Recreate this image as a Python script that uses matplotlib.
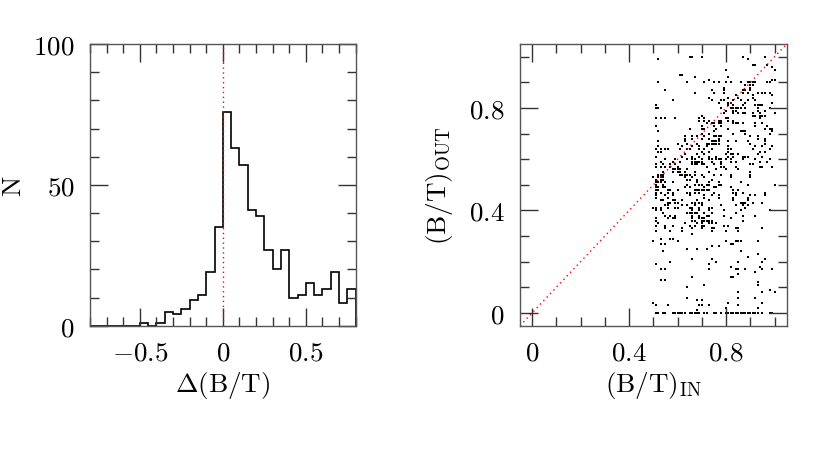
import numpy as np
import matplotlib
matplotlib.use("Agg")
import matplotlib.pyplot as plt
from matplotlib.ticker import MultipleLocator

plt.rcParams.update({
    "font.family": "serif",
    "font.serif": ["cmr10", "DejaVu Serif"],
    "mathtext.fontset": "cm",
    "axes.formatter.use_mathtext": True,
    "axes.unicode_minus": True,
    "font.size": 19.5,
})

# ---- Left panel: histogram of Delta(B/T) ----
bin_lo, bin_hi, n_bins = -0.8, 0.8, 32
counts = [0, 0, 0, 0, 0, 0, 1, 0, 1, 5, 4, 6, 9, 11, 19, 35,
          76, 63, 57, 41, 39, 27, 20, 27, 10, 11, 15, 11, 13, 19, 8, 13]
hist_xticks = [-0.5, 0, 0.5]
hist_xticklabels = [r"$-0.5$", r"$0$", r"$0.5$"]
hist_yticks = [0, 50, 100]

# ---- Right panel: (B/T)_OUT vs (B/T)_IN, grouped by output value ----
out_rows = {
    1.00: [0.65, 0.66, 0.70, 0.87, 0.96],
    0.99: [0.52, 0.89],
    0.97: [0.91, 0.92, 0.97],
    0.96: [0.99],
    0.95: [0.80, 1.00],
    0.93: [0.61, 0.62],
    0.92: [0.67, 0.81],
    0.91: [0.73, 0.99, 1.00],
    0.90: [0.52, 0.64, 0.71, 0.75, 0.77, 0.80, 0.82, 0.86, 0.89, 0.90, 0.91, 0.92, 0.97, 0.98],
    0.89: [0.88, 0.90, 0.91],
    0.88: [0.79, 0.90],
    0.87: [0.55, 0.74, 0.79, 0.87, 0.88, 0.90],
    0.86: [0.67, 0.75, 0.79, 0.87, 0.89, 0.93, 0.95, 0.96, 0.98],
    0.85: [0.84, 0.91, 0.99],
    0.84: [0.73, 0.81, 0.85, 0.91],
    0.83: [0.58, 0.74, 0.78, 0.79, 0.83, 0.86, 0.89, 0.92],
    0.82: [0.77, 0.81, 0.82, 0.88, 0.99],
    0.81: [0.51, 0.81, 0.83, 0.87, 0.92, 0.93, 0.94, 0.95],
    0.80: [0.51, 0.52, 0.78, 0.82, 0.83, 0.84, 0.85, 0.86, 0.88, 0.93, 0.98],
    0.79: [0.80, 0.83, 0.84, 0.93, 0.96],
    0.78: [0.79, 0.83, 0.85, 0.87, 0.88, 0.91, 0.94, 1.00],
    0.77: [0.70, 0.91, 0.92, 0.94, 0.95, 0.96],
    0.76: [0.51, 0.53, 0.55, 0.59, 0.69, 0.71, 0.80, 0.81, 0.94],
    0.75: [0.69, 0.71, 0.73, 0.77, 0.78, 0.81, 0.83],
    0.74: [0.72, 0.74, 0.75, 0.77, 0.78, 0.83, 0.84, 0.85, 0.87, 0.92, 0.95],
    0.73: [0.51, 0.70, 0.75, 0.78, 0.92, 0.97],
    0.72: [0.65, 0.70, 0.71, 0.76, 0.81, 0.96, 0.98, 0.99],
    0.71: [0.52, 0.75, 0.86, 0.87, 0.88, 0.99],
    0.70: [0.70, 0.73, 0.83, 0.88, 0.98],
    0.69: [0.63, 0.66, 0.68, 0.71, 0.75, 0.76, 0.77, 0.78, 0.90, 0.93],
    0.68: [0.63, 0.66, 0.70, 0.73, 0.77, 0.93, 0.96],
    0.67: [0.52, 0.63, 0.74, 0.75, 0.76, 0.77, 0.81, 0.84, 0.89, 0.96],
    0.66: [0.60, 0.64, 0.68, 0.72, 0.73, 0.74, 0.75, 0.76, 0.77, 0.90, 0.96],
    0.65: [0.52, 0.62, 0.66, 0.69, 0.72, 0.81, 0.92, 0.95, 0.99],
    0.64: [0.51, 0.53, 0.55, 0.56, 0.61, 0.64, 0.65, 0.69, 0.71, 0.74, 0.81, 0.82, 0.91, 0.98],
    0.63: [0.52, 0.53, 0.70, 0.73, 0.81, 0.94, 0.96],
    0.62: [0.63, 0.68, 0.71, 0.80, 0.82, 0.83, 0.85, 0.93],
    0.61: [0.51, 0.62, 0.66, 0.69, 0.73, 0.76, 0.81, 0.83, 0.87, 0.88, 0.89, 0.95],
    0.60: [0.55, 0.59, 0.64, 0.66, 0.67, 0.70, 0.73, 0.74, 0.76, 0.77, 0.78, 0.80, 0.82, 0.87, 0.92, 0.98],
    0.59: [0.53, 0.58, 0.61, 0.66, 0.67, 0.68, 0.69, 0.70, 0.74, 0.78, 0.82, 0.84, 0.94, 0.97],
    0.58: [0.51, 0.54, 0.57, 0.59, 0.66, 0.67, 0.68, 0.70, 0.71, 0.75, 0.78, 0.90, 0.91],
    0.57: [0.51, 0.53, 0.55, 0.57, 0.60, 0.72, 0.78, 0.79, 0.84, 0.94, 0.95, 0.99],
    0.56: [0.58, 0.59, 0.60, 0.61, 0.64, 0.76, 0.80, 0.85],
    0.55: [0.54, 0.58, 0.60, 0.61, 0.63, 0.67, 0.73, 0.90],
    0.54: [0.52, 0.53, 0.54, 0.61, 0.62, 0.63, 0.64, 0.65, 0.67, 0.70, 0.75, 0.78, 0.82, 0.90],
    0.53: [0.50, 0.52, 0.53, 0.54, 0.63, 0.66, 0.71, 0.82, 0.90],
    0.52: [0.51, 0.53, 0.54, 0.64, 0.65, 0.68, 0.74],
    0.51: [0.51, 0.52, 0.53, 0.55, 0.58, 0.68, 0.73, 0.77, 0.86],
    0.50: [0.51, 0.54, 0.64, 0.67, 0.69, 0.70, 0.72, 0.73, 0.77, 0.78, 0.89, 1.00],
    0.49: [0.51, 0.52, 0.54, 0.55, 0.63, 0.65, 0.71, 0.75, 0.76, 0.82],
    0.48: [0.51, 0.52, 0.56, 0.57, 0.60, 0.67, 0.68, 0.69, 0.70, 0.71, 0.72, 0.73, 0.83, 0.85],
    0.47: [0.51, 0.53, 0.56, 0.58, 0.64, 0.65, 0.67, 0.69, 0.75, 0.83, 0.84, 0.87, 0.96],
    0.46: [0.51, 0.55, 0.58, 0.65, 0.71, 0.74, 0.77, 0.84, 0.90, 0.92, 0.96],
    0.45: [0.51, 0.56, 0.71, 0.77, 0.83, 0.89],
    0.44: [0.53, 0.54, 0.58, 0.59, 0.62, 0.68, 0.73, 0.83, 0.89],
    0.43: [0.56, 0.57, 0.59, 0.60, 0.66, 0.67, 0.69, 0.70, 0.86, 0.87, 0.88, 0.91, 0.95],
    0.42: [0.55, 0.56, 0.62, 0.64, 0.67, 0.70, 0.78, 0.84, 0.87, 0.89],
    0.41: [0.50, 0.51, 0.53, 0.56, 0.59, 0.60, 0.65, 0.66, 0.69, 0.73, 0.74, 0.88],
    0.40: [0.51, 0.53, 0.66, 0.69, 0.73, 0.79, 0.86, 0.98],
    0.39: [0.54, 0.64, 0.65, 0.66, 0.67, 0.68, 0.71, 0.74, 0.84],
    0.38: [0.55, 0.57, 0.59, 0.66, 0.69, 0.72, 0.73, 0.79, 0.87, 0.92],
    0.37: [0.51, 0.56, 0.58, 0.59, 0.66, 0.69, 0.70, 0.71, 0.82],
    0.36: [0.51, 0.66, 0.67, 0.70, 0.71, 0.72, 0.73, 0.74, 0.87],
    0.35: [0.52, 0.63, 0.68, 0.70, 0.73, 0.74, 0.76],
    0.34: [0.51, 0.55, 0.58, 0.65, 0.67, 0.70, 0.71, 0.79, 0.81],
    0.33: [0.55, 0.62, 0.66, 0.70, 0.74, 0.75, 0.84, 0.85, 0.95],
    0.32: [0.51, 0.57, 0.62, 0.74, 0.80, 0.85],
    0.31: [0.66],
    0.29: [0.53, 0.57, 0.58],
    0.28: [0.50, 0.60, 0.80, 0.84, 0.85, 0.86, 0.93],
    0.27: [0.53, 0.55, 0.82, 0.83],
    0.26: [0.74, 0.77],
    0.25: [0.64, 0.68, 0.72],
    0.24: [0.54, 0.86],
    0.23: [0.93],
    0.22: [0.89],
    0.21: [0.66, 0.74, 0.96],
    0.20: [0.57, 0.76, 0.85, 0.95],
    0.19: [0.51, 0.73],
    0.18: [0.82, 0.94],
    0.17: [0.53, 0.55, 0.73, 0.84, 0.85, 0.88, 0.95, 0.99],
    0.16: [0.92],
    0.15: [0.85],
    0.14: [0.66, 0.82, 0.83],
    0.13: [0.53, 0.55],
    0.12: [0.93],
    0.11: [0.71, 0.93],
    0.10: [0.64],
    0.09: [0.98],
    0.08: [0.85, 0.95, 1.00],
    0.06: [0.64, 0.85, 0.92],
    0.05: [0.68, 0.70],
    0.04: [0.50, 0.81, 0.95],
    0.03: [0.51, 0.56, 0.69, 0.70, 0.73, 0.85],
    0.02: [0.80, 0.93],
    0.01: [0.68],
    0.00: [0.51, 0.52, 0.54, 0.55, 0.58, 0.59, 0.60, 0.61, 0.62, 0.63, 0.65, 0.66, 0.67,
           0.68, 0.69, 0.71, 0.72, 0.75, 0.76, 0.78, 0.80, 0.81, 0.82, 0.83, 0.84, 0.85,
           0.86, 0.87, 0.88, 0.89, 0.90, 0.91, 0.92, 0.93, 0.95, 0.98, 0.99],
}
sc_ticks = [0, 0.4, 0.8]
sc_ticklabels = ["0", "0.4", "0.8"]

bt_in = np.array([x for y, xs in out_rows.items() for x in xs])
bt_out = np.array([y for y, xs in out_rows.items() for x in xs])

fig = plt.figure(figsize=(8.3, 4.6), dpi=100)
ax1 = fig.add_axes([0.1084, 0.2898, 0.3201, 0.6123])
ax2 = fig.add_axes([0.6265, 0.2898, 0.3213, 0.6123])

edges = np.linspace(bin_lo, bin_hi, n_bins + 1)
ax1.stairs(counts, edges, color="black", linewidth=1.2)
ax1.axvline(0, color="red", linewidth=1.0, linestyle=(0, (1, 2.5)))
ax1.set_xlim(bin_lo, bin_hi)
ax1.set_ylim(0, 100)
ax1.set_xticks(hist_xticks, hist_xticklabels)
ax1.set_yticks(hist_yticks, [rf"${v}$" for v in hist_yticks])
ax1.xaxis.set_minor_locator(MultipleLocator(0.1))
ax1.yaxis.set_minor_locator(MultipleLocator(10))
ax1.set_xlabel(r"$\Delta$(B/T)", labelpad=3)
ax1.set_ylabel("N", labelpad=6)

ax2.scatter(bt_in, bt_out, s=1.6, marker="s", color="black", linewidths=0)
ax2.axline((0, 0), slope=1, color="red", linewidth=1.0, linestyle=(0, (1, 2.5)))
ax2.set_xlim(-0.05, 1.05)
ax2.set_ylim(-0.05, 1.05)
ax2.set_xticks(sc_ticks, [rf"${v}$" for v in sc_ticklabels])
ax2.set_yticks(sc_ticks, [rf"${v}$" for v in sc_ticklabels])
ax2.xaxis.set_minor_locator(MultipleLocator(0.1))
ax2.yaxis.set_minor_locator(MultipleLocator(0.1))
ax2.set_xlabel(r"(B/T)$_{\rm IN}$", labelpad=3)
ax2.set_ylabel(r"(B/T)$_{\rm OUT}$", labelpad=10)

for ax in (ax1, ax2):
    ax.tick_params(which="both", direction="in", top=True, right=True, width=1.0,
                   color="#333333", labelsize=19.5, pad=11)
    ax.tick_params(which="major", length=13)
    ax.tick_params(which="minor", length=6.5)
    for s in ax.spines.values():
        s.set_linewidth(1.0)
        s.set_color("#555555")

fig.savefig("out.png", dpi=100)
